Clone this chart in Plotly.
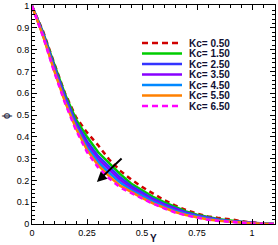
import plotly.graph_objects as go

Y = [0, 0.05, 0.1, 0.15, 0.2, 0.25, 0.3, 0.35, 0.4, 0.45, 0.5, 0.55, 0.6, 0.65,
     0.7, 0.75, 0.8, 0.85, 0.9, 0.95, 1.0, 1.05, 1.1]
kc05 = [1.0, 0.885, 0.74, 0.60, 0.49, 0.42, 0.362, 0.297, 0.245, 0.205, 0.17, 0.14, 0.11,
        0.085, 0.064, 0.048, 0.035, 0.027, 0.022, 0.013, 0.006, 0.002, 0.0]
kc15 = [1.0, 0.88, 0.735, 0.595, 0.48, 0.40, 0.33, 0.28, 0.23, 0.186, 0.155, 0.125, 0.10,
        0.078, 0.058, 0.043, 0.031, 0.022, 0.016, 0.010, 0.005, 0.002, 0.0]
kc25 = [1.0, 0.875, 0.725, 0.585, 0.465, 0.38, 0.312, 0.262, 0.214, 0.175, 0.145, 0.116, 0.092,
        0.071, 0.053, 0.039, 0.028, 0.020, 0.014, 0.009, 0.004, 0.002, 0.0]
kc35 = [1.0, 0.87, 0.718, 0.575, 0.455, 0.365, 0.298, 0.248, 0.202, 0.165, 0.137, 0.109, 0.086,
        0.066, 0.049, 0.036, 0.026, 0.018, 0.012, 0.008, 0.004, 0.001, 0.0]
kc45 = [1.0, 0.867, 0.712, 0.568, 0.447, 0.352, 0.285, 0.235, 0.19, 0.156, 0.13, 0.103, 0.081,
        0.061, 0.046, 0.034, 0.024, 0.017, 0.011, 0.007, 0.003, 0.001, 0.0]
kc55 = [1.0, 0.863, 0.706, 0.56, 0.438, 0.34, 0.27, 0.22, 0.176, 0.146, 0.12, 0.095, 0.074,
        0.055, 0.041, 0.031, 0.021, 0.015, 0.010, 0.006, 0.003, 0.001, 0.0]
kc65 = [1.0, 0.86, 0.70, 0.555, 0.43, 0.33, 0.26, 0.21, 0.168, 0.142, 0.118, 0.093, 0.072,
        0.053, 0.04, 0.030, 0.020, 0.014, 0.009, 0.005, 0.002, 0.001, 0.0]

labels = ["Kc= 0.50", "Kc= 1.50", "Kc= 2.50", "Kc= 3.50", "Kc= 4.50", "Kc= 5.50", "Kc= 6.50"]
series = [kc05, kc15, kc25, kc35, kc45, kc55, kc65]
colors = ["#D00000", "#00CC00", "#3333FF", "#8800FF", "#0088FF", "#FF8000", "#FF00FF"]
dashes = ["5px,4px", "solid", "solid", "solid", "solid", "solid", "5px,4px"]

x_ticks = [0, 0.25, 0.5, 0.75, 1]
x_ticklabels = ["0", "0.25", "0.5", "0.75", "1"]
y_ticks = [0, 0.1, 0.2, 0.3, 0.4, 0.5, 0.6, 0.7, 0.8, 0.9, 1]
y_ticklabels = ["0", "0.1", "0.2", "0.3", "0.4", "0.5", "0.6", "0.7", "0.8", "0.9", "1"]

W, H = 278, 245
ML, MR, MT, MB = 32, 3, 5, 21
PW, PH = W - ML - MR, H - MT - MB

fig = go.Figure()
for vals, name, c, d in zip(series, labels, colors, dashes):
    fig.add_trace(go.Scatter(x=Y, y=vals, mode="lines", name=name,
                             line=dict(color=c, width=2.5, dash=d), showlegend=False))

def px_x(p):
    return (p - ML) / PW

def px_y(p):
    return (H - MB - p) / PH

FONT = "Arial, Liberation Sans"
shapes = []
annotations = []
for i, (name, c, d) in enumerate(zip(labels, colors, dashes)):
    yc = 43 + i * 10.5
    shapes.append(dict(type="line", xref="paper", yref="paper",
                       x0=px_x(142), x1=px_x(182), y0=px_y(yc), y1=px_y(yc),
                       line=dict(color=c, width=2.5, dash="6px,4px" if d != "solid" else "solid")))
    annotations.append(dict(xref="paper", yref="paper", x=px_x(187), y=px_y(yc),
                            xanchor="left", yanchor="middle", text="<b>" + name + "</b>",
                            showarrow=False, font=dict(family=FONT, size=10, color="#111133")))

annotations.append(dict(x=0.295, y=0.193, ax=0.414, ay=0.307, xref="x", yref="y",
                        axref="x", ayref="y", showarrow=True, arrowhead=2, arrowsize=1,
                        arrowwidth=2, arrowcolor="black", text=""))
annotations.append(dict(xref="paper", yref="paper", x=px_x(153), y=px_y(238),
                        xanchor="center", yanchor="middle", text="<b>Y</b>", showarrow=False,
                        font=dict(family=FONT, size=10, color="#111133")))
annotations.append(dict(xref="paper", yref="paper", x=px_x(6), y=px_y(116),
                        xanchor="center", yanchor="middle", text="ϕ", textangle=-90,
                        showarrow=False, font=dict(family=FONT, size=11, color="#111133")))

fig.update_layout(
    width=W, height=H,
    margin=dict(l=ML, r=MR, t=MT, b=MB),
    paper_bgcolor="white", plot_bgcolor="white",
    shapes=shapes, annotations=annotations,
    font=dict(family=FONT, size=9, color="black"),
    xaxis=dict(range=[0, 1.1045], tickvals=x_ticks, ticktext=x_ticklabels,
               ticks="inside", ticklen=5, tickwidth=1, tickcolor="black",
               minor=dict(dtick=0.05, ticks="inside", ticklen=3, tickcolor="black"),
               showline=True, linecolor="black", linewidth=1, mirror="ticks",
               showgrid=False, zeroline=False, automargin=False),
    yaxis=dict(range=[0, 1.0046], tickvals=y_ticks, ticktext=y_ticklabels,
               ticks="inside", ticklen=5, tickwidth=1, tickcolor="black",
               minor=dict(dtick=0.02, ticks="inside", ticklen=3, tickcolor="black"),
               showline=True, linecolor="black", linewidth=1, mirror="ticks",
               showgrid=False, zeroline=False, automargin=False),
)

fig.write_html("out.html", config={"displayModeBar": False},
               post_script="document.body.style.margin='0';document.body.style.padding='0';")
